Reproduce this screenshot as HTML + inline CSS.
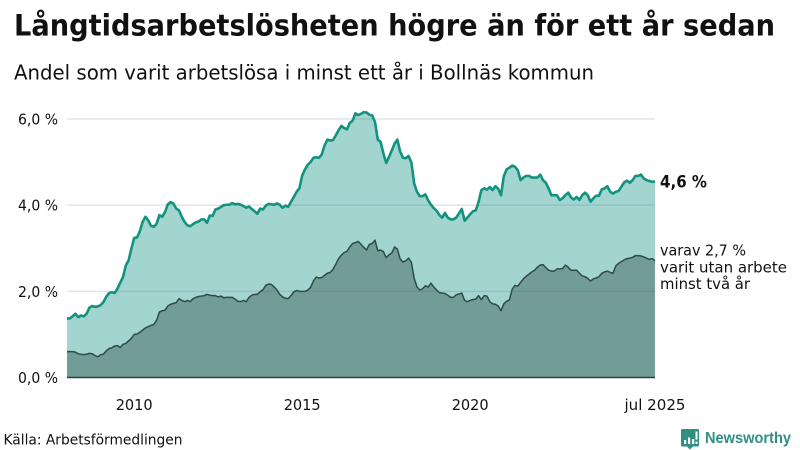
<!DOCTYPE html>
<html lang="sv">
<head>
<meta charset="utf-8">
<title>Långtidsarbetslösheten högre än för ett år sedan</title>
<style>
html,body{margin:0;padding:0;background:#fff;width:800px;height:450px;overflow:hidden}
svg{display:block}
text{font-family:"DejaVu Sans","Liberation Sans",sans-serif;fill:#111}
</style>
</head>
<body>
<svg id="chart" xmlns="http://www.w3.org/2000/svg" width="800" height="450" viewBox="0 0 800 450">
  <text x="14" y="35.5" font-size="29" font-weight="700" textLength="761" lengthAdjust="spacingAndGlyphs">Långtidsarbetslösheten högre än för ett år sedan</text>
  <text x="14" y="79.5" font-size="20.5" textLength="580" lengthAdjust="spacingAndGlyphs">Andel som varit arbetslösa i minst ett år i Bollnäs kommun</text>
  <g id="plot"></g>
  <text x="660" y="187.5" font-size="17" font-weight="700" textLength="47" lengthAdjust="spacingAndGlyphs">4,6 %</text>
  <g font-size="15.5">
    <text x="660" y="255.5" textLength="86" lengthAdjust="spacingAndGlyphs">varav 2,7 %</text>
    <text x="660" y="272.5" textLength="127" lengthAdjust="spacingAndGlyphs">varit utan arbete</text>
    <text x="660" y="289" textLength="90" lengthAdjust="spacingAndGlyphs">minst två år</text>
  </g>
  <text x="3.5" y="444.5" font-size="14.5" textLength="179" lengthAdjust="spacingAndGlyphs">Källa: Arbetsförmedlingen</text>
  <g>
    <path d="M682.5 429h15a1.5 1.5 0 0 1 1.5 1.500v14.500a1.500 1.500 0 0 1-1.500 1.500h-4.500l-3 3-3-3h-4.500a1.500 1.500 0 0 1-1.500-1.500v-14.500a1.500 1.500 0 0 1 1.500-1.500z" fill="#2f8f84"/>
    <path d="M684 440h2.200v4h-2.200zM688 437.500h2.200v6.500h-2.200zM692 439h2.200v5h-2.200zM695.500 431.500h2v8h-2zM695.500 441.500h2v2.500h-2z" fill="#fff"/>
    <text x="705" y="443" font-size="16" font-weight="700" style="fill:#2f8f84;font-family:'Liberation Sans',sans-serif" textLength="86" lengthAdjust="spacingAndGlyphs">Newsworthy</text>
  </g>
</svg>
<script>
// Monthly values, first month January 2008, last month July 2025 (percent)
const startYear = 2008;
const totalShare = [
1.37,1.37,1.42,1.48,1.40,1.44,1.42,1.48,1.62,1.66,1.64,1.65,
1.68,1.75,1.87,1.96,1.98,1.96,2.06,2.20,2.33,2.60,2.72,2.99,
3.24,3.25,3.39,3.61,3.73,3.65,3.52,3.50,3.57,3.77,3.73,3.84,
4.02,4.07,4.04,3.92,3.88,3.73,3.61,3.53,3.51,3.56,3.60,3.62,
3.67,3.67,3.59,3.76,3.75,3.90,3.92,3.96,4.00,4.01,4.01,4.05,
4.02,4.03,4.01,3.98,3.94,3.97,3.91,3.86,3.80,3.92,3.90,3.99,
4.03,4.02,4.01,4.04,4.01,3.94,3.99,3.96,4.08,4.19,4.31,4.39,
4.69,4.83,4.94,5.00,5.10,5.11,5.10,5.18,5.39,5.52,5.50,5.51,
5.62,5.74,5.84,5.79,5.76,5.91,5.96,6.13,6.09,6.12,6.16,6.15,
6.10,6.08,5.93,5.52,5.47,5.20,4.98,5.12,5.27,5.43,5.52,5.24,
5.10,5.09,5.14,4.99,4.50,4.31,4.21,4.21,4.25,4.11,4.01,3.93,
3.87,3.77,3.71,3.82,3.71,3.67,3.67,3.71,3.81,3.91,3.64,3.71,
3.79,3.86,3.88,4.08,4.35,4.39,4.36,4.42,4.35,4.44,4.38,4.23,
4.67,4.83,4.87,4.92,4.89,4.81,4.58,4.64,4.68,4.68,4.64,4.64,
4.64,4.71,4.58,4.52,4.39,4.23,4.23,4.23,4.12,4.16,4.23,4.29,
4.18,4.13,4.19,4.12,4.23,4.29,4.23,4.08,4.16,4.22,4.22,4.37,
4.39,4.44,4.31,4.27,4.31,4.33,4.43,4.53,4.57,4.52,4.58,4.68,
4.68,4.71,4.62,4.58,4.56,4.54,4.55];
const longTermShare = [
0.60,0.60,0.60,0.59,0.55,0.54,0.53,0.54,0.56,0.55,0.51,0.48,
0.53,0.54,0.62,0.67,0.69,0.73,0.74,0.70,0.77,0.79,0.85,0.91,
1.00,1.01,1.05,1.10,1.15,1.18,1.21,1.23,1.33,1.52,1.55,1.56,
1.66,1.70,1.72,1.74,1.83,1.79,1.76,1.79,1.76,1.83,1.86,1.88,
1.89,1.90,1.93,1.91,1.90,1.90,1.87,1.89,1.85,1.86,1.86,1.86,
1.82,1.77,1.76,1.79,1.76,1.86,1.91,1.93,1.93,1.99,2.04,2.14,
2.17,2.16,2.10,2.03,1.93,1.87,1.84,1.83,1.90,1.99,2.02,2.00,
2.00,2.00,2.03,2.09,2.24,2.33,2.31,2.32,2.37,2.42,2.44,2.51,
2.63,2.76,2.84,2.90,2.93,3.03,3.11,3.13,3.16,3.09,3.02,2.96,
3.09,3.11,3.19,2.94,2.96,2.92,2.78,2.85,2.89,3.03,2.98,2.75,
2.68,2.71,2.77,2.67,2.30,2.10,2.03,2.06,2.13,2.10,2.19,2.10,
2.03,1.97,1.96,1.95,1.91,1.86,1.86,1.92,1.94,1.96,1.79,1.76,
1.79,1.81,1.82,1.90,1.81,1.90,1.89,1.76,1.71,1.70,1.66,1.55,
1.71,1.77,1.80,2.05,2.14,2.12,2.21,2.29,2.35,2.40,2.45,2.49,
2.56,2.61,2.62,2.55,2.49,2.47,2.47,2.52,2.52,2.53,2.61,2.56,
2.49,2.49,2.49,2.42,2.36,2.34,2.30,2.24,2.29,2.31,2.34,2.42,
2.45,2.47,2.44,2.42,2.59,2.65,2.69,2.73,2.76,2.77,2.79,2.83,
2.83,2.82,2.80,2.77,2.74,2.76,2.71];
const yTickValues = [0, 2, 4, 6];
const yTickLabels = ["0,0 %", "2,0 %", "4,0 %", "6,0 %"];
const xTickYears = [2010, 2015, 2020];
const xEndLabel = "jul 2025";

const plotLeft = 67, plotRight = 655, plotBottom = 377.5, plotTop = 119;
const monthSpan = 210, valueMax = 6;
function xScale(monthIndex) { return plotLeft + (plotRight - plotLeft) * monthIndex / monthSpan; }
function yScale(value) { return plotBottom - (plotBottom - plotTop) * value / valueMax; }
const svgNS = "http://www.w3.org/2000/svg";
const plot = document.getElementById("plot");
function make(tag, attrs, parent) {
  const el = document.createElementNS(svgNS, tag);
  for (const k in attrs) el.setAttribute(k, attrs[k]);
  parent.appendChild(el);
  return el;
}
function linePath(values) {
  return values.map((v, i) => (i ? "L" : "M") + xScale(i).toFixed(2) + " " + yScale(v).toFixed(2)).join("");
}
function areaPath(values) {
  return linePath(values) + "L" + xScale(values.length - 1).toFixed(2) + " " + yScale(0) + "L" + xScale(0).toFixed(2) + " " + yScale(0) + "Z";
}

const totalArea = make("path", { d: areaPath(totalShare), fill: "#a3d5d0" }, plot);


const longArea = make("path", { d: areaPath(longTermShare), fill: "#729c96" }, plot);



yTickValues.forEach((v, i) => {
  if (v !== 0) {
    const grid = make("line", { x1: plotLeft, x2: plotRight, y1: yScale(v), y2: yScale(v), stroke: "rgba(90,90,130,0.17)", "stroke-width": 1.5 }, plot);
    
    
  }
  const label = make("text", { x: 18, y: yScale(v) + 5.5, "font-size": 15.5, textLength: 40, lengthAdjust: "spacingAndGlyphs" }, plot);
  label.textContent = yTickLabels[i];
  
  
});

const longLine = make("path", { d: linePath(longTermShare), fill: "none", stroke: "#2f4a48", "stroke-width": 1.5, "stroke-linejoin": "round" }, plot);


const totalLine = make("path", { d: linePath(totalShare), fill: "none", stroke: "#13937f", "stroke-width": 2.6, "stroke-linejoin": "round" }, plot);



const baseline = make("line", { x1: plotLeft, x2: plotRight, y1: yScale(0), y2: yScale(0), stroke: "#2f4040", "stroke-width": 1.4 }, plot);



xTickYears.forEach((year) => {
  const tick = make("text", { x: xScale((year - startYear) * 12), y: 410, "font-size": 15, "text-anchor": "middle", textLength: 37, lengthAdjust: "spacingAndGlyphs" }, plot);
  tick.textContent = String(year);
  
  
});
const endTick = make("text", { x: xScale(monthSpan), y: 410, "font-size": 15, "text-anchor": "middle", textLength: 61, lengthAdjust: "spacingAndGlyphs" }, plot);
endTick.textContent = xEndLabel;


</script>
</body>
</html>
